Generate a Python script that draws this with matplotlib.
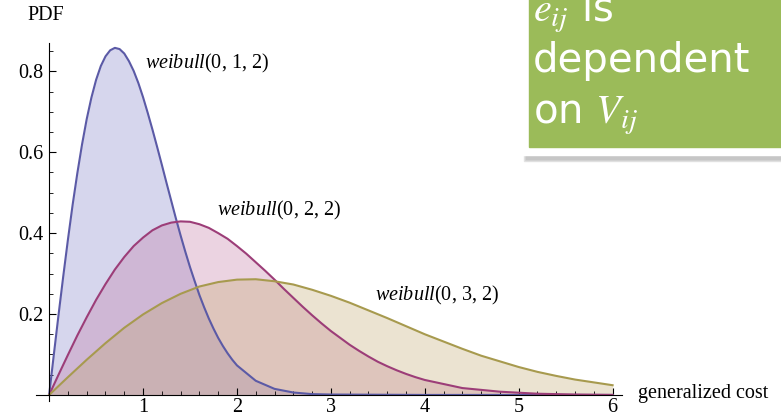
import numpy as np
import matplotlib.pyplot as plt
from matplotlib.patches import Rectangle

# values
x1 = [0, 0.05, 0.1, 0.15, 0.2, 0.25, 0.3, 0.35, 0.4, 0.45, 0.5, 0.55, 0.6, 0.65,
      0.7, 0.75, 0.8, 0.85, 0.9, 0.95, 1.0, 1.05, 1.1, 1.15, 1.2, 1.25, 1.3,
      1.35, 1.4, 1.45, 1.5, 1.55, 1.6, 1.65, 1.7, 1.75, 1.8, 1.85, 1.9, 1.95,
      2.0, 2.2, 2.4, 2.6, 2.8, 3.0, 4.0, 5.0, 6.0]
pdf1 = [0, 0.100, 0.198, 0.293, 0.384, 0.470, 0.548, 0.619, 0.682, 0.735, 0.779,
        0.813, 0.837, 0.852, 0.858, 0.855, 0.844, 0.825, 0.801, 0.771, 0.736,
        0.697, 0.656, 0.613, 0.569, 0.524, 0.480, 0.436, 0.394, 0.354, 0.316,
        0.281, 0.247, 0.217, 0.189, 0.164, 0.141, 0.121, 0.103, 0.087, 0.073,
        0.035, 0.015, 0.006, 0.002, 0.001, 0, 0, 0]

x2 = [0, 0.1, 0.2, 0.3, 0.4, 0.5, 0.6, 0.7, 0.8, 0.9, 1.0, 1.1, 1.2, 1.3, 1.4,
      1.5, 1.6, 1.7, 1.8, 1.9, 2.0, 2.1, 2.2, 2.3, 2.4, 2.5, 2.6, 2.7, 2.8, 2.9,
      3.0, 3.1, 3.2, 3.3, 3.4, 3.5, 3.6, 3.7, 3.8, 3.9, 4.0, 4.4, 4.8, 5.2, 5.6,
      6.0]
pdf2 = [0, 0.050, 0.099, 0.147, 0.192, 0.235, 0.274, 0.310, 0.341, 0.368, 0.389,
        0.407, 0.419, 0.426, 0.429, 0.428, 0.422, 0.413, 0.400, 0.386, 0.368,
        0.349, 0.328, 0.307, 0.285, 0.262, 0.240, 0.218, 0.197, 0.177, 0.158,
        0.141, 0.124, 0.109, 0.095, 0.082, 0.071, 0.061, 0.052, 0.044, 0.037,
        0.017, 0.008, 0.003, 0.001, 0.000]

x3 = [round(0.2 * i, 1) for i in range(31)]
pdf3 = [0, 0.044, 0.087, 0.128, 0.166, 0.199, 0.227, 0.250, 0.268, 0.279, 0.285,
        0.286, 0.281, 0.273, 0.260, 0.245, 0.228, 0.209, 0.190, 0.170, 0.150,
        0.132, 0.114, 0.097, 0.083, 0.069, 0.057, 0.047, 0.038, 0.031, 0.024]

labels = ['(0, 1, 2)', '(0, 2, 2)', '(0, 3, 2)']
label_pos = [(1.02, 0.82), (1.79, 0.457), (3.47, 0.245)]
line_colors = ['#5b5aa6', '#9c3d78', '#a79a4e']
fill_colors = ['#7a7ac6', '#c0709e', '#c0a569']

plt.rcParams['mathtext.fontset'] = 'custom'
plt.rcParams['mathtext.it'] = 'Liberation Serif:italic'
plt.rcParams['mathtext.rm'] = 'Liberation Serif'
serif = 'Liberation Serif'
fs = 14.5

W, H = 781, 419
fig = plt.figure(figsize=(W / 100, H / 100), dpi=100)
xlim = (-0.14, 6.1)
ylim = (-0.015, 0.87)
left, right, bottom, top = 36, 622, 401, 43
ax = fig.add_axes([left / W, 1 - bottom / H, (right - left) / W, (bottom - top) / H])
ax.set_xlim(*xlim)
ax.set_ylim(*ylim)
ax.patch.set_alpha(0)

series = [(x1, pdf1), (x2, pdf2), (x3, pdf3)]
for (xs, ys), fc in zip(series, fill_colors):
    ax.fill_between(xs, ys, 0, color=fc, alpha=0.3, lw=0)
for (xs, ys), lc in zip(series, line_colors):
    ax.plot(xs, ys, color=lc, lw=1.5)

for lab, (lx, ly) in zip(labels, label_pos):
    ax.text(lx, ly, r'$\mathit{weibull}$' + lab, fontsize=fs, family=serif,
            va='center', ha='left')

for s in ['top', 'right']:
    ax.spines[s].set_visible(False)
ax.spines['left'].set_position(('data', 0))
ax.spines['bottom'].set_position(('data', 0))
ax.spines['left'].set_bounds(-0.015, 0.87)
ax.set_xticks([1, 2, 3, 4, 5, 6])
ax.set_xticks(np.arange(0.2, 6.01, 0.2), minor=True)
ax.set_yticks([0.2, 0.4, 0.6, 0.8])
ax.set_yticks(np.arange(0.05, 0.86, 0.05), minor=True)
ax.tick_params(direction='in', length=5, width=0.8, labelsize=fs)
ax.tick_params(which='minor', direction='in', length=3, width=0.6)
ax.tick_params(axis='x', pad=2)
ax.tick_params(axis='y', pad=4)
for t in ax.get_xticklabels() + ax.get_yticklabels():
    t.set_family(serif)

fig.text(27 / W, 1 - 15 / H, 'PDF', family=serif, fontsize=fs, va='center')
fig.text(638 / W, 1 - 393 / H, 'generalized cost', family=serif, fontsize=fs,
         va='center')

# green callout box with soft shadow
for i, c in enumerate(['#e4e4e4', '#d4d4d4', '#c6c6c6']):
    fig.patches.append(Rectangle(((524 + i) / W, 1 - (161 - i) / H), 260 / W,
                                 (161 - i) / H, transform=fig.transFigure,
                                 color=c, zorder=5))
fig.patches.append(Rectangle((521 / W, 1 - 155 / H), 265 / W, 160 / H,
                             transform=fig.transFigure, color='white', zorder=6))
fig.patches.append(Rectangle((529 / W, 1 - 147 / H), 260 / W, 150 / H,
                             transform=fig.transFigure, color='#9bbb59', zorder=7))
box_lines = [(r'$e_{ij}$ is', 22), ('dependent', 72), (r'on $V_{ij}$', 124)]
for txt, yb in box_lines:
    fig.text(533 / W, 1 - yb / H, txt, color='white', fontsize=29,
             family='DejaVu Sans', va='baseline', zorder=8,
             math_fontfamily='stix')

fig.savefig('out.png', dpi=100)
